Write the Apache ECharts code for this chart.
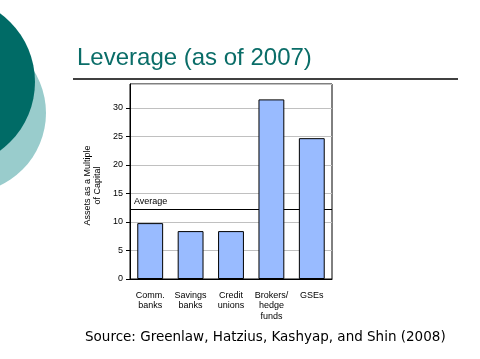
<!DOCTYPE html>
<html><head><meta charset="utf-8">
<script src="https://cdn.jsdelivr.net/npm/echarts@6/dist/echarts.min.js"></script>
<style>html,body{margin:0;padding:0;background:#fff}#c{width:480px;height:359px}</style>
</head><body><div id="c"></div>
<script>
var categories = ['Comm.\nbanks', 'Savings\nbanks', 'Credit\nunions', 'Brokers/\nhedge\nfunds', 'GSEs'];
var leverage = [9.8, 8.4, 8.4, 31.5, 24.7];
var averageValue = 12.2;
var yTicks = [0, 5, 10, 15, 20, 25, 30];
var titleText = 'Leverage (as of 2007)';
var sourceText = 'Source: Greenlaw, Hatzius, Kashyap, and Shin (2008)';
var yName = 'Assets as a Multiple\nof Capital';

var chart = echarts.init(document.getElementById('c'), null, {renderer: 'canvas'});
var lblFont = {fontFamily: 'Liberation Sans', fontSize: 9, color: '#000'};
chart.setOption({
  animation: false,
  backgroundColor: '#fff',
  graphic: [
    {type: 'circle', shape: {cx: -34, cy: 113, r: 80}, style: {fill: '#99cccc'}, z: 1},
    {type: 'circle', shape: {cx: -50, cy: 82, r: 85}, style: {fill: '#006b66'}, z: 2},
    {type: 'line', shape: {x1: 73, y1: 79, x2: 458, y2: 79}, style: {stroke: '#000', lineWidth: 1.5}},
    {type: 'text', left: 77, top: 46, style: {text: titleText, font: '24px "Liberation Sans"', fill: '#0a6d68'}},
    {type: 'text', left: 85, top: 330, style: {text: sourceText, font: '13.5px "DejaVu Sans"', fill: '#000'}}
  ],
  grid: {left: 130, top: 84, right: 148, bottom: 80, show: true, borderColor: '#000', borderWidth: 1, containLabel: false},
  xAxis: {
    type: 'category', data: categories,
    axisLine: {lineStyle: {color: '#000'}},
    axisTick: {show: false},
    axisLabel: Object.assign({margin: 11, lineHeight: 10.5, interval: 0}, lblFont)
  },
  yAxis: {
    type: 'value', min: 0, max: 34.2, interval: 5,
    name: yName, nameLocation: 'middle', nameRotate: 90, nameGap: 27,
    nameTextStyle: {fontFamily: 'Liberation Sans', fontSize: 9, color: '#000', lineHeight: 10, padding: [0, 8, 0, 0]},
    axisLine: {show: true, lineStyle: {color: '#000'}},
    axisTick: {show: true, length: 4, lineStyle: {color: '#000'}},
    axisLabel: Object.assign({margin: 7, showMaxLabel: false, formatter: function (v) { return yTicks.indexOf(v) >= 0 ? String(v) : ''; }}, lblFont),
    splitLine: {show: true, lineStyle: {color: '#c0c0c0', width: 1}}
  },
  series: [{
    type: 'bar', data: leverage, z: 3,
    barCategoryGap: '36%',
    itemStyle: {color: '#99bbff', borderColor: '#000', borderWidth: 1},
    markLine: {
      z: 1, silent: true, symbol: 'none',
      lineStyle: {color: '#000', width: 1, type: 'solid'},
      label: {show: true, position: 'insideStartTop', formatter: 'Average', fontFamily: 'Liberation Sans', fontSize: 9, color: '#000', distance: [4, 3]},
      data: [{yAxis: averageValue}]
    }
  }]
});
</script></body></html>
